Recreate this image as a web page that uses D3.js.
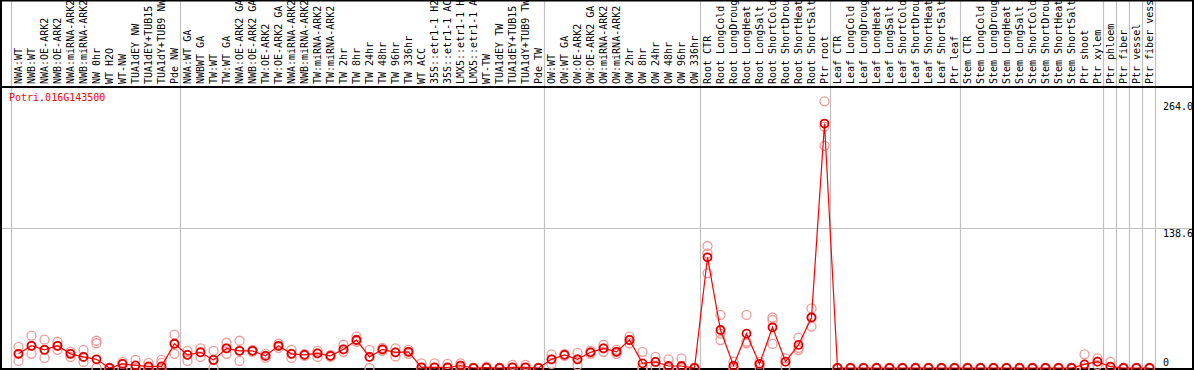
<!DOCTYPE html>
<html>
<head>
<meta charset="utf-8">
<script src="https://cdn.jsdelivr.net/npm/d3@7"></script>
<style>
  body { margin: 0; background: #fff; }
  text { font-family: "DejaVu Sans Mono", monospace; font-size: 10px; }
</style>
</head>
<body>
<div id="chart"></div>
<script>
var width = 1194;
var height = 370;

var geneName = "Potri.016G143500";

var samples = [
  "NWA:WT", "NWB:WT", "NWA:OE-ARK2", "NWB:OE-ARK2", "NWA:miRNA-ARK2", "NWB:miRNA-ARK2",
  "NW 0hr", "WT H2O", "WT-NW", "TUA1dEY NW", "TUA1dEY+TUB15", "TUA1dY+TUB9 NW", "Pde NW",
  "NWA:WT GA", "NWBWT GA", "TW:WT", "TW:WT GA", "NWA:OE-ARK2 GA", "NWB:OE-ARK2 GA",
  "TW:OE-ARK2", "TW:OE-ARK2 GA", "NWA:miRNA-ARK2", "NWB:miRNA-ARK2", "TW:miRNA-ARK2",
  "TW:miRNA-ARK2", "TW 2hr", "TW 8hr", "TW 24hr", "TW 48hr", "TW 96hr", "TW 336hr",
  "WT ACC", "35S::etr1-1 H2", "35S::etr1-1 AC", "LMX5::etr1-1 H", "LMX5::etr1-1 A",
  "WT-TW", "TUA1dEY TW", "TUA1dEY+TUB15", "TUA1dY+TUB9 TW", "Pde TW",
  "OW:WT", "OW:WT GA", "OW:OE-ARK2", "OW:OE-ARK2 GA", "OW:miRNA-ARK2", "OW:miRNA-ARK2",
  "OW 2hr", "OW 8hr", "OW 24hr", "OW 48hr", "OW 96hr", "OW 336hr",
  "Root CTR", "Root LongCold", "Root LongDroug", "Root LongHeat", "Root LongSalt",
  "Root ShortCold", "Root ShortDrou", "Root ShortHeat", "Root ShortSalt", "Ptr root",
  "Leaf CTR", "Leaf LongCold", "Leaf LongDroug", "Leaf LongHeat", "Leaf LongSalt",
  "Leaf ShortCold", "Leaf ShortDrou", "Leaf ShortHeat", "Leaf ShortSalt", "Ptr leaf",
  "Stem CTR", "Stem LongCold", "Stem LongDroug", "Stem LongHeat", "Stem LongSalt",
  "Stem ShortCold", "Stem ShortDrou", "Stem ShortHeat", "Stem ShortSalt", "Ptr shoot",
  "Ptr xylem", "Ptr phloem", "Ptr fiber", "Ptr vessel", "Ptr fiber vess"
];

// index of the first sample in each group (grey separators)
var groupStarts = [0, 13, 41, 53, 63, 73, 84, 85, 86, 87, 88];

var means = [
  14, 22, 18, 22, 14, 11, 8.6, 0, 4, 2.6, 1.6, 1.6, 24,
  13, 15.5, 8, 19.5, 17, 17, 12, 22, 14, 13, 14.5, 12, 18.5, 27.7, 11, 18.5, 15.5, 16,
  0.7, 0.7, 0.5, 2.3, 0, 0.3, 0, 0.7, 0.7, 0,
  8.6, 13, 8.6, 15.5, 19.5, 16, 27.7, 4.6, 6, 2, 2, 0,
  109.6, 37.6, 2.3, 34, 4, 40.3, 6.3, 22.8, 50, 242,
  0, 0, 0, 0, 0, 0, 0, 0, 0, 0,
  0, 0, 0, 0, 0, 0, 0, 0, 0, 3.6, 6.3,
  1.3, 0, 0, 0
];

var repA = [
  21, 32, 28, 26, 16, 18, 27, 0, 6, 8, 5, 8, 33,
  17, 19.5, 17, 25, 27, 18, 14, 24, 18, 14, 17, 13, 23, 31, 18, 20, 19.5, 18,
  4.6, 4.6, 4, 4.6, 0, 1.3, 0, 3, 3, 0,
  13.5, 14, 15, 17, 23, 18, 31, 16, 11, 8.6, 9.6, 0,
  120.8, 52.5, 6, 52.5, 6, 50, 9.6, 30, 59, 264,
  0, 0, 0, 0, 0, 0, 0, 0, 0, 0,
  0, 0, 0, 0, 0, 0, 0, 0, 0, 13.5, 9.6,
  6, 0, 0, 0
];

var repB = [
  14, 22, 18, 22, 14, 11, 24.5, 0, 4, 0, 0, 5, 24,
  13, 16, 8, 19.5, 17, 17, 12, 22, 14, 13, 14.5, 12, 18.5, 27.7, 11, 18.5, 15.5, 16,
  0, 0, 0, 2.3, 0, 0, 0, 0, 0, 0,
  8.6, 13, 8.6, 15.5, 19.5, 16, 27.7, 0, 6, 0, 0, 0,
  113.5, 34, 1, 26, 4, 47.5, 6.3, 20, 50, 239,
  0, 0, 0, 0, 0, 0, 0, 0, 0, 0,
  0, 0, 0, 0, 0, 0, 0, 0, 0, 0, 6.3,
  0, 0, 0, 0
];

var repC = [
  7, 14, 10, 18, 11, 6, 0, 0, 0, 0, 0, 0, 14,
  7, 11, 0, 14, 7, 16, 10, 20, 10, 12, 11, 11, 16, 26, 0, 17, 11.5, 14,
  0, 0, 0, 0, 0, 0, 0, 0, 0, 0,
  4, 12, 2.6, 14, 16, 14, 24.5, 0, 1, 0, 0, 0,
  93.7, 27.7, 0, 24.5, 1, 23.8, 1.3, 17.8, 41, 220,
  0, 0, 0, 0, 0, 0, 0, 0, 0, 0,
  0, 0, 0, 0, 0, 0, 0, 0, 0, 0, 3,
  0, 0, 0, 0
];

var yTicks = [264.0, 138.6, 0];
var yMax = 277.2;

var svg = d3.select("#chart")
            .append("svg")
            .attr("width", width)
            .attr("height", height);

var headerBottom = 87;
var plotTop = 88;
var plotBottom = 368;
var plotRight = 1155;

var x = d3.scaleBand()
          .domain(d3.range(samples.length))
          .range([11, plotRight]);

var y = d3.scaleLinear()
          .domain([0, yMax])
          .range([plotBottom, plotTop]);

function cx(i) { return x(i) + x.bandwidth() / 2 + 1; }

// grey group separators (full height)
svg.selectAll(".sep")
   .data(groupStarts)
   .enter().append("line")
   .attr("x1", function(d) { return x(d) === undefined ? plotRight + 0.5 : x(d) + 0.5; })
   .attr("x2", function(d) { return x(d) === undefined ? plotRight + 0.5 : x(d) + 0.5; })
   .attr("y1", 0)
   .attr("y2", height)
   .attr("stroke", "#c0c0c0")
   .attr("stroke-width", 1.2);

// middle grid line
svg.append("line")
   .attr("x1", 2).attr("x2", width - 1)
   .attr("y1", Math.round(y(yMax / 2)) + 0.5)
   .attr("y2", Math.round(y(yMax / 2)) + 0.5)
   .attr("stroke", "#c0c0c0")
   .attr("stroke-width", 1.2);

// sample labels, rotated, clipped to the header
svg.append("clipPath").attr("id", "hdr")
   .append("rect").attr("x", 0).attr("y", 0).attr("width", width).attr("height", headerBottom - 1);

svg.append("g").attr("clip-path", "url(#hdr)")
   .selectAll("text")
   .data(samples)
   .enter().append("text")
   .attr("transform", function(d, i) { return "translate(" + (cx(i) + 3.5) + "," + (headerBottom - 3) + ") rotate(-90)"; })
   .attr("fill", "#000")
   .text(function(d) { return d; });

// frame
svg.append("rect")
   .attr("x", 1).attr("y", 0.5)
   .attr("width", width - 2).attr("height", height - 1.5)
   .attr("fill", "none")
   .attr("stroke", "#000")
   .attr("stroke-width", 2);

svg.append("line")
   .attr("x1", 0).attr("x2", width)
   .attr("y1", headerBottom).attr("y2", headerBottom)
   .attr("stroke", "#000")
   .attr("stroke-width", 2);

// gene name
svg.append("text")
   .attr("x", 9).attr("y", 101)
   .attr("fill", "red")
   .text(geneName);

// y labels
svg.selectAll(".ylab")
   .data(yTicks)
   .enter().append("text")
   .attr("x", 1163)
   .attr("y", function(d) { return Math.min(y(d) + 9, 366); })
   .attr("fill", "#000")
   .text(function(d) { return d === 0 ? "0" : d.toFixed(1); });

// replicate circles
var reps = [repA, repB, repC];
reps.forEach(function(rep) {
  svg.append("g")
     .selectAll("circle")
     .data(rep)
     .enter().append("circle")
     .attr("cx", function(d, i) { return cx(i); })
     .attr("cy", function(d) { return y(d); })
     .attr("r", 4.5)
     .attr("fill", "none")
     .attr("stroke", "#ef9a9a")
     .attr("stroke-width", 1.3);
});

// mean line
var line = d3.line()
             .x(function(d, i) { return cx(i); })
             .y(function(d) { return y(d); });

svg.append("path")
   .datum(means)
   .attr("d", line)
   .attr("fill", "none")
   .attr("stroke", "red")
   .attr("stroke-width", 1.2);

svg.append("g")
   .selectAll("circle")
   .data(means)
   .enter().append("circle")
   .attr("cx", function(d, i) { return cx(i); })
   .attr("cy", function(d) { return y(d); })
   .attr("r", 4)
   .attr("fill", "none")
   .attr("stroke", "#e00000")
   .attr("stroke-width", 1.8);
</script>
</body>
</html>
